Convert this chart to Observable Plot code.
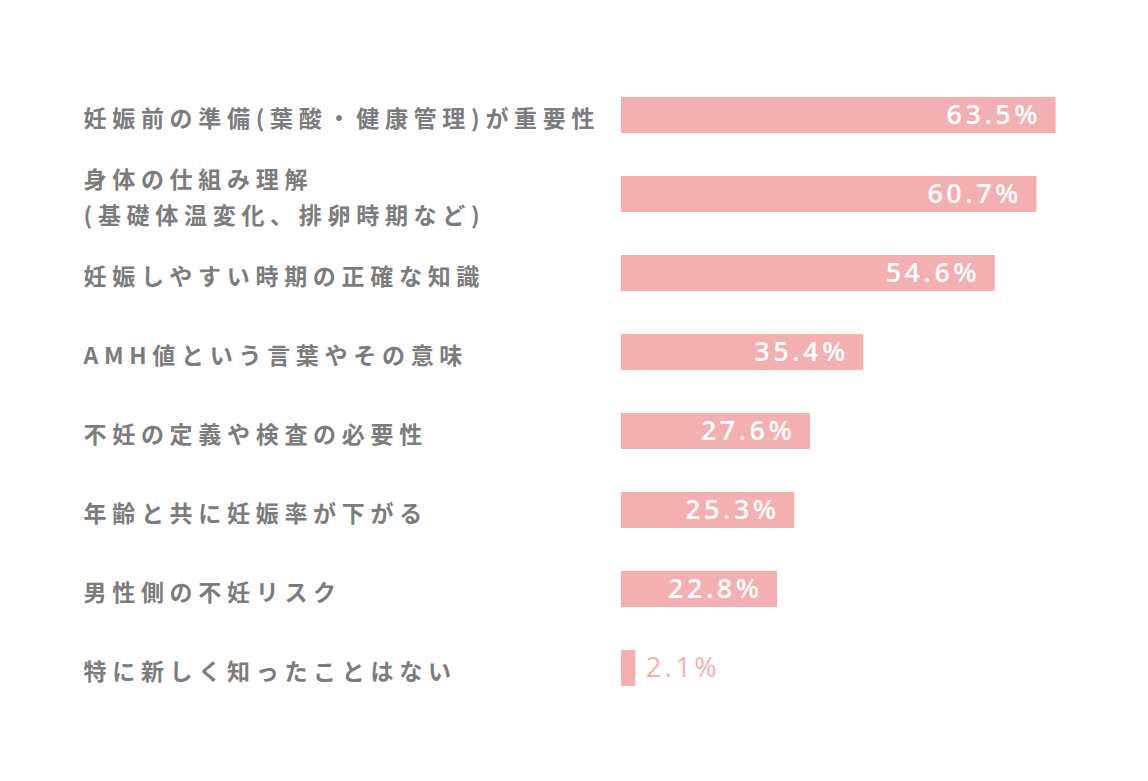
<!DOCTYPE html>
<html>
<head>
<meta charset="utf-8">
<script src="https://cdn.jsdelivr.net/npm/d3@7"></script>
<script src="https://cdn.jsdelivr.net/npm/@observablehq/plot@0.6"></script>
<style>
  html, body { margin: 0; padding: 0; background: #fff; }
  #chart svg { display: block; }
</style>
</head>
<body>
<div id="chart"></div>
<script>
const categories = [
  "妊娠前の準備(葉酸・健康管理)が重要性",
  "身体の仕組み理解\n(基礎体温変化、排卵時期など)",
  "妊娠しやすい時期の正確な知識",
  "AMH値という言葉やその意味",
  "不妊の定義や検査の必要性",
  "年齢と共に妊娠率が下がる",
  "男性側の不妊リスク",
  "特に新しく知ったことはない"
];
const values = [63.5, 60.7, 54.6, 35.4, 27.6, 25.3, 22.8, 2.1];
const valueLabels = ["63.5%", "60.7%", "54.6%", "35.4%", "27.6%", "25.3%", "22.8%", "2.1%"];

const data = categories.map((c, i) => ({ cat: c, value: values[i], label: valueLabels[i] }));
const inside = data.filter(d => d.value >= 10);
const outside = data.filter(d => d.value < 10);

const barColor = "#f4afb0";

const chart = Plot.plot({
  width: 1148,
  height: 781,
  marginLeft: 621,
  marginRight: 0,
  marginTop: 52,
  marginBottom: 50,
  x: { domain: [0, 77], axis: null },
  y: { domain: categories, padding: 0.55, axis: null },
  marks: [
    Plot.barX(data, { y: "cat", x: "value", fill: barColor }),
    Plot.text(data, {
      y: "cat", text: "cat", frameAnchor: "left", dx: -538, textAnchor: "start",
      fill: "#7c7c7c", fontSize: 23, fontWeight: 700, lineHeight: 1.55,
      fontFamily: "'Noto Sans CJK JP', sans-serif"
    }),
    Plot.text(inside, {
      y: "cat", x: "value", text: "label", textAnchor: "end", dx: -15,
      fill: "#ffffff", fontSize: 27, fontWeight: 600,
      fontFamily: "'Open Sans', sans-serif"
    }),
    Plot.text(outside, {
      y: "cat", x: "value", text: "label", textAnchor: "start", dx: 10,
      fill: barColor, fontSize: 27, fontWeight: 400,
      fontFamily: "'Open Sans', sans-serif"
    })
  ]
});

const groups = chart.querySelectorAll("g[aria-label='text']");
if (groups[0]) groups[0].setAttribute("letter-spacing", "5.7");
if (groups[1]) groups[1].setAttribute("letter-spacing", "3.5");
if (groups[2]) groups[2].setAttribute("letter-spacing", "3.5");

document.getElementById("chart").appendChild(chart);
</script>
</body>
</html>
